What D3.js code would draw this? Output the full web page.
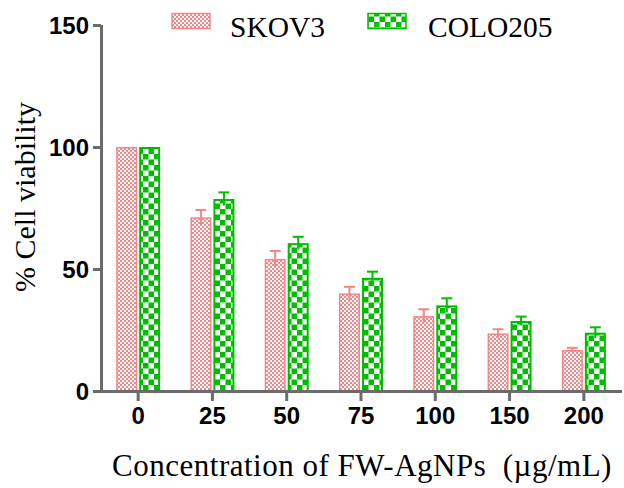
<!DOCTYPE html>
<html><head><meta charset="utf-8">
<script src="https://cdn.jsdelivr.net/npm/d3@7"></script>
<style>body{margin:0;background:#fff}svg{display:block}</style>
</head><body><svg id="c" width="624" height="488"></svg>
<script>
const categories = ["0","25","50","75","100","150","200"];
const seriesNames = ["SKOV3","COLO205"];
const skov3 = [100, 71.2, 54.1, 40.0, 30.7, 23.6, 16.8];
const skov3Err = [0, 3.0, 3.3, 2.7, 2.8, 1.7, 0.9];
const colo205 = [100, 78.7, 60.6, 46.4, 35.1, 28.7, 23.9];
const colo205Err = [0, 2.7, 2.6, 2.5, 2.9, 1.8, 2.2];
const yTicks = [0, 50, 100, 150];

const svg = d3.select("#c");
const axisCol = "#6b6b6b";
const pinkCol = "#f38686";
const greenCol = "#00bd00";

const defs = svg.append("defs");
const pp = defs.append("pattern").attr("id","pPink").attr("patternUnits","userSpaceOnUse").attr("width",4).attr("height",4);
pp.append("rect").attr("width",4).attr("height",4).attr("fill","#fff");
pp.append("rect").attr("width",2).attr("height",2).attr("fill",pinkCol);
pp.append("rect").attr("x",2).attr("y",2).attr("width",2).attr("height",2).attr("fill",pinkCol);
const pg = defs.append("pattern").attr("id","pGreen").attr("patternUnits","userSpaceOnUse").attr("width",11).attr("height",11);
pg.append("rect").attr("width",11).attr("height",11).attr("fill","#fff");
pg.append("rect").attr("width",5.5).attr("height",5.5).attr("fill",greenCol);
pg.append("rect").attr("x",5.5).attr("y",5.5).attr("width",5.5).attr("height",5.5).attr("fill",greenCol);

const x = d3.scaleBand().domain(categories).range([101, 621]).padding(0);
const y = d3.scaleLinear().domain([0,150]).range([391, 25]);

const series = [
  {name: seriesNames[0], vals: skov3, err: skov3Err, fill: "url(#pPink)", col: pinkCol, off: -22, sw: 1.5},
  {name: seriesNames[1], vals: colo205, err: colo205Err, fill: "url(#pGreen)", col: greenCol, off: 1, sw: 2}
];
const bw = 21;

series.forEach(s => {
  const g = svg.append("g");
  g.selectAll("rect").data(categories).join("rect")
    .attr("x", d => x(d) + x.bandwidth()/2 + s.off + s.sw/2)
    .attr("y", (d,i) => y(s.vals[i]) + s.sw/2)
    .attr("width", bw - s.sw)
    .attr("height", (d,i) => y(0) - y(s.vals[i]) - s.sw/2)
    .attr("fill", s.fill).attr("stroke", s.col).attr("stroke-width", s.sw);
  const e = svg.append("g").attr("stroke", s.col).attr("stroke-width", 2);
  categories.forEach((d,i) => {
    if (!s.err[i]) return;
    const cx = x(d) + x.bandwidth()/2 + s.off + bw/2;
    e.append("line").attr("x1",cx).attr("x2",cx).attr("y1",y(s.vals[i]-s.err[i])).attr("y2",y(s.vals[i]+s.err[i]));
    e.append("line").attr("x1",cx-5.5).attr("x2",cx+5.5).attr("y1",y(s.vals[i]+s.err[i])).attr("y2",y(s.vals[i]+s.err[i]));
  });
});

// axes
const yAxis = svg.append("g").attr("transform","translate(101,0)")
  .call(d3.axisLeft(y).tickValues(yTicks).tickSize(8).tickPadding(4).tickSizeOuter(0));
const xAxis = svg.append("g").attr("transform","translate(0,391)")
  .call(d3.axisBottom(x).tickSize(10).tickPadding(6).tickSizeOuter(0));
[yAxis, xAxis].forEach(a => {
  a.select(".domain").attr("stroke", axisCol).attr("stroke-width", 3);
  a.selectAll(".tick line").attr("stroke", axisCol).attr("stroke-width", 3);
  a.selectAll(".tick text").attr("fill","#000").attr("font-family","'Liberation Sans', Arial, sans-serif")
    .attr("font-weight","bold").attr("font-size", 24);
});
xAxis.select(".domain").attr("d","M99.5,0.5H622");
yAxis.select(".domain").attr("d","M0.5,25V392.5");
yAxis.selectAll(".tick text").attr("dy","0.36em");

// titles
svg.append("text").attr("transform","translate(35,197) rotate(-90)").attr("text-anchor","middle")
  .attr("font-family","'Liberation Serif', serif").attr("font-size",30).attr("fill","#000")
  .text("% Cell viability");
svg.append("text").attr("x",362).attr("y",476).attr("text-anchor","middle")
  .attr("font-family","'Liberation Serif', serif").attr("font-size",31).attr("fill","#000")
  .attr("letter-spacing", 0.5)
  .style("white-space","pre")
  .text("Concentration of FW-AgNPs  (µg/mL)");

// legend
const leg = [
  {name: seriesNames[0], fill: "url(#pPink)", col: pinkCol, sx: 172, tx: 230},
  {name: seriesNames[1], fill: "url(#pGreen)", col: greenCol, sx: 368, tx: 428}
];
leg.forEach(l => {
  svg.append("rect").attr("x", l.sx).attr("y", 13.5).attr("width", 38).attr("height", 15)
    .attr("fill", l.fill).attr("stroke", l.col).attr("stroke-width", 1.5);
  svg.append("text").attr("x", l.tx).attr("y", 37).attr("font-family","'Liberation Serif', serif")
    .attr("font-size", 29.5).attr("fill","#000").text(l.name);
});
</script></body></html>
